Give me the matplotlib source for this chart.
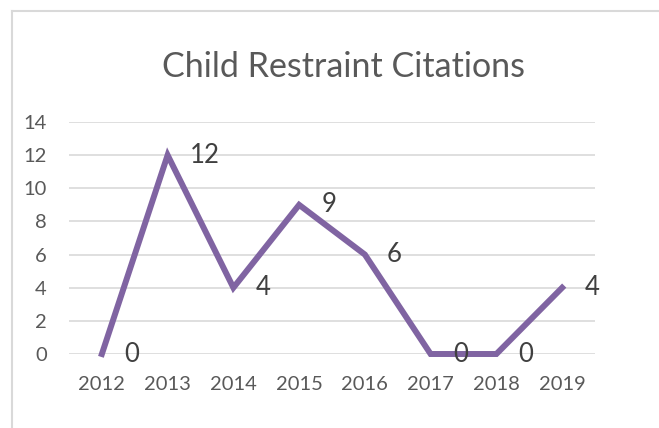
import matplotlib
matplotlib.use("Agg")
import matplotlib.pyplot as plt
from matplotlib.lines import Line2D

years = ['2012', '2013', '2014', '2015', '2016', '2017', '2018', '2019']
citations = [0, 12, 4, 9, 6, 0, 0, 4]
yticks = [0, 2, 4, 6, 8, 10, 12, 14]

W, H = 659, 428
plt.rcParams['font.family'] = ['Lato', 'DejaVu Sans']
text_col = '#595959'
purple = '#8064A2'
grid_col = '#D9D9D9'

fig = plt.figure(figsize=(W / 100, H / 100), dpi=100)
ax = fig.add_axes([69 / W, 1 - 354 / H, (595 - 69) / W, (354 - 122) / H])

x = range(len(years))
ax.plot(x, citations, color=purple, lw=4.3, solid_joinstyle='miter', clip_on=False, zorder=3)

# data labels to the right of each point
for i, v in enumerate(citations):
    ax.annotate(str(v), (i, v), xytext=(16, 0), textcoords='offset points',
                ha='left', va='center', fontsize=18.5, color='#404040', zorder=4)

ax.set_xlim(-0.5, len(years) - 0.5)
ax.set_ylim(0, 14)
ax.set_yticks(yticks)
ax.set_xticks(list(x))
ax.set_xticklabels(years)
ax.tick_params(axis='both', length=0, colors=text_col, labelsize=14.5)
ax.tick_params(axis='y', pad=16)
ax.tick_params(axis='x', pad=16)
ax.grid(axis='y', color=grid_col, lw=1.2)
ax.set_axisbelow(True)
for s in ax.spines.values():
    s.set_visible(False)

fig.text(343.5 / W, 1 - 67 / H, 'Child Restraint Citations', ha='center', va='center',
         fontsize=24.5, color=text_col)

# chart border (only top and left edges show)
fig.add_artist(Line2D([12 / W, 1], [1 - 11 / H, 1 - 11 / H], color=grid_col, lw=1.5))
fig.add_artist(Line2D([12 / W, 12 / W], [1 - 11 / H, 0], color=grid_col, lw=1.5))

fig.savefig('out.png', dpi=100)
